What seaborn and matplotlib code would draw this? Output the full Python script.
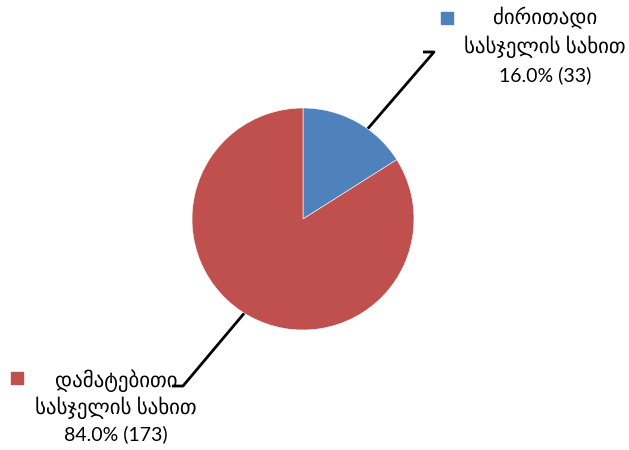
import matplotlib
matplotlib.use("Agg")
import matplotlib.pyplot as plt
import seaborn as sns

# Data
categories = [["ძირითადი", "სასჯელის სახით"], ["დამატებითი", "სასჯელის სახით"]]
counts = [33, 173]
slice_colors = ["#4F81BD", "#C0504D"]

sns.set_theme(style="white")
plt.rcParams["font.family"] = ["Lato", "DejaVu Sans"]

W, H = 629, 450
fig = plt.figure(figsize=(W / 100, H / 100), dpi=100)
ax = fig.add_axes([0, 0, 1, 1])

# pie, centre and radius in pixel space (y measured from bottom)
cx, cy, r = 303, H - 219, 111
ax.pie(
    counts,
    colors=slice_colors,
    startangle=90,
    counterclock=False,
    center=(cx, cy),
    radius=r,
    frame=True,
    wedgeprops={"edgecolor": "white", "linewidth": 0.4, "zorder": 3},
)
ax.set_xlim(0, W)
ax.set_ylim(0, H)
ax.set_aspect("equal")
ax.axis("off")

total = sum(counts)
pct = [c / total * 100 for c in counts]

# label layout: (square x, square y, text centre x, line y's, leader points)
layout = [
    (447, 18, 545, [18, 47, 75], [(cx + 30, cy + 50), (434, H - 52), (423, H - 52)]),
    (17, 378, 116, [381, 408, 434], [(cx - 30, cy - 60), (183, H - 386), (172, H - 386)]),
]

for i, (sqx, sqy, tx, lys, pts) in enumerate(layout):
    xs = [p[0] for p in pts]
    ys = [p[1] for p in pts]
    ax.plot(xs, ys, color="black", lw=2, zorder=1, solid_capstyle="butt")
    ax.scatter([sqx], [H - sqy], marker="s", s=75, color=slice_colors[i], zorder=4)
    lines = categories[i] + [f"{pct[i]:.1f}% ({counts[i]})"]
    sizes = [15, 15, 14]
    for line, ly, fs in zip(lines, lys, sizes):
        ax.text(tx, H - ly, line, ha="center", va="center", fontsize=fs,
                color="black", zorder=5)

fig.savefig("out.png", dpi=100)
